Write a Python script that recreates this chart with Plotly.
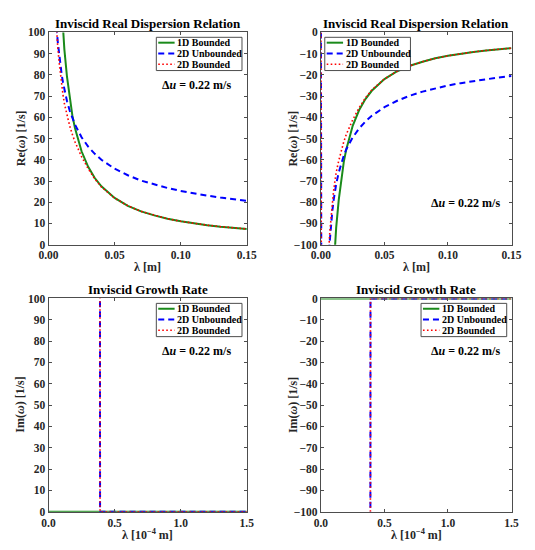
import plotly.graph_objects as go

# ---------------- data ----------------
lam_top = [0.004, 0.005, 0.006, 0.007, 0.008, 0.009, 0.010, 0.011, 0.012, 0.014,
           0.016, 0.018, 0.020, 0.025, 0.030, 0.035, 0.040, 0.050, 0.060, 0.070,
           0.080, 0.090, 0.100, 0.110, 0.120, 0.130, 0.140, 0.150]

re_pos_1d = [275, 220, 183, 157, 138, 122, 110, 100, 92, 79,
             69, 61, 55, 44, 36.7, 31.4, 27.5, 22.0, 18.3, 15.7,
             13.8, 12.2, 11.0, 10.0, 9.2, 8.5, 7.9, 7.4]
re_pos_2du = [126, 113, 103, 95.6, 89.4, 84.3, 80, 76.3, 73, 67.6,
              63.2, 59.6, 56.6, 50.6, 46.2, 42.8, 40.0, 35.8, 32.7, 30.2,
              28.3, 26.7, 25.3, 24.1, 23.1, 22.2, 21.4, 20.7]
re_pos_2db = [125, 112, 101, 93, 86, 80, 75, 70.5, 66.5, 61,
              56, 52, 48.5, 41.5, 35.8, 31.0, 27.2, 21.9, 18.3, 15.7,
              13.8, 12.2, 11.0, 10.0, 9.2, 8.5, 7.9, 7.4]

lam_top_neg = [0.0, 0.001] + lam_top
re_neg_1d = [-275, -220, -183, -157, -138, -122, -110, -100, -92, -79,
             -69, -61, -55, -44, -36.7, -31.4, -27.5, -22.0, -18.3, -15.7,
             -13.8, -12.2, -11.0, -10.0, -9.2, -8.5, -7.9, -7.4]
re_neg_2du = [0, -400, -140, -122, -108, -98, -90, -84, -79, -75, -71.5, -66,
              -61.5, -58, -55, -49.5, -45.3, -42, -39.3, -35.2, -32.2, -29.8,
              -27.9, -26.3, -25.0, -23.9, -22.9, -22.0, -21.2, -20.5]
re_neg_2db = [0, -400, -139, -120, -104, -94, -86, -79.5, -74.5, -70, -66, -60.5,
              -55.5, -51.5, -48, -41.2, -35.6, -30.9, -27.1, -21.9, -18.3, -15.7,
              -13.8, -12.2, -11.0, -10.0, -9.2, -8.5, -7.9, -7.4]

lam_bot = [0.0, 0.1, 0.2, 0.3, 0.35, 0.38, 0.388, 0.39, 0.5, 0.75, 1.0, 1.25, 1.5]
im_pos_1d = [0, 0, 0, 0, 0, 0, 0, 0, 0, 0, 0, 0, 0]
im_pos_2du = [5000, 3000, 2000, 1200, 900, 500, 300, 0, 0, 0, 0, 0, 0]
im_pos_2db = [5000, 3000, 2000, 1200, 900, 500, 300, 0, 0, 0, 0, 0, 0]
im_neg_1d = [0, 0, 0, 0, 0, 0, 0, 0, 0, 0, 0, 0, 0]
im_neg_2du = [-5000, -3000, -2000, -1200, -900, -500, -300, 0, 0, 0, 0, 0, 0]
im_neg_2db = [-5000, -3000, -2000, -1200, -900, -500, -300, 0, 0, 0, 0, 0, 0]

names = ["1D Bounded", "2D Unbounded", "2D Bounded"]
titles = ["Inviscid Real Dispersion Relation", "Inviscid Real Dispersion Relation",
          "Inviscid Growth Rate", "Inviscid Growth Rate"]
note = "<b>Δ<i>u</i> = 0.22 m/s</b>"

# ---------------- styling ----------------
W, H = 535, 550
FONT = "Liberation Serif"
AX = "#4d4d4d"
TXT = "#262626"
GREEN, BLUE, RED = "#1a8a1a", "#0000ff", "#ff0000"

def px_x(p):
    return p / W

def px_y(p):
    return 1 - p / H

panels = [
    dict(ax="", xl=40, xr=246, yt=27, yb=244, xr_=[0, 0.15], yr=[0, 100],
         x=[lam_top, lam_top, lam_top], y=[re_pos_1d, re_pos_2du, re_pos_2db],
         leg=(152, 32), note=(194, 81), ytitle="<b>Re(<i>ω</i>) [1/s]</b>",
         xtitle="<b>λ [m]</b>", dtick=0.05, fmt=".2f"),
    dict(ax="2", xl=323, xr=521, yt=27, yb=244, xr_=[0, 0.15], yr=[-100, 0],
         x=[lam_top, lam_top_neg, lam_top_neg], y=[re_neg_1d, re_neg_2du, re_neg_2db],
         leg=(327, 32), note=(473, 201), ytitle="<b>Re(<i>ω</i>) [1/s]</b>",
         xtitle="<b>λ [m]</b>", dtick=0.05, fmt=".2f"),
    dict(ax="3", xl=40, xr=246, yt=299, yb=517, xr_=[0, 1.5], yr=[0, 100],
         x=[lam_bot, lam_bot, lam_bot], y=[im_pos_1d, im_pos_2du, im_pos_2db],
         leg=(152, 304), note=(194, 353), ytitle="<b>Im(<i>ω</i>) [1/s]</b>",
         xtitle="<b>λ [10<sup>−4</sup> m]</b>", dtick=0.5, fmt=".1f"),
    dict(ax="4", xl=323, xr=521, yt=299, yb=517, xr_=[0, 1.5], yr=[-100, 0],
         x=[lam_bot, lam_bot, lam_bot], y=[im_neg_1d, im_neg_2du, im_neg_2db],
         leg=(427, 304), note=(473, 353), ytitle="<b>Im(<i>ω</i>) [1/s]</b>",
         xtitle="<b>λ [10<sup>−4</sup> m]</b>", dtick=0.5, fmt=".1f"),
]

styles = [
    dict(color=GREEN, width=2, dash="solid"),
    dict(color=BLUE, width=2, dash="6px,4px"),
    dict(color=RED, width=1.6, dash="1.6px,2.4px"),
]

LEG_W, LEG_H = 89, 34

fig = go.Figure()
layout = dict(
    width=W, height=H, margin=dict(l=0, r=0, t=0, b=0),
    paper_bgcolor="white", plot_bgcolor="white",
    font=dict(family=FONT, size=11, color=TXT),
    showlegend=False,
    annotations=[], shapes=[],
)

for i, p in enumerate(panels):
    for k in range(3):
        fig.add_trace(go.Scatter(
            x=p["x"][k], y=p["y"][k], mode="lines", name=names[k],
            line=styles[k], xaxis="x" + p["ax"], yaxis="y" + p["ax"],
        ))
    axis_common = dict(
        showgrid=False, zeroline=False, showline=True, linecolor=AX, linewidth=1,
        mirror="ticks", ticks="inside", ticklen=3, tickcolor=AX,
        tickfont=dict(family=FONT, size=11.5, color=TXT, weight="bold"),
    )
    xa = dict(axis_common, domain=[px_x(p["xl"]), px_x(p["xr"])], range=p["xr_"],
              anchor="y" + p["ax"], dtick=p["dtick"], tick0=0, tickformat=p["fmt"])
    ya = dict(axis_common, domain=[px_y(p["yb"]), px_y(p["yt"])], range=p["yr"],
              anchor="x" + p["ax"], dtick=10, tick0=0)
    layout["xaxis" + p["ax"]] = xa
    layout["yaxis" + p["ax"]] = ya

    cx = (p["xl"] + p["xr"]) / 2
    layout["annotations"] += [
        dict(text="<b>" + titles[i] + "</b>", x=px_x(cx), y=px_y(p["yt"] - 9),
             xref="paper", yref="paper", showarrow=False, xanchor="center",
             yanchor="middle", font=dict(family=FONT, size=13, color="black")),
        dict(text=note, x=px_x(p["note"][0]), y=px_y(p["note"][1]),
             xref="paper", yref="paper", showarrow=False, xanchor="center",
             yanchor="middle", font=dict(family=FONT, size=12, color="black")),
        dict(text=p["xtitle"], x=px_x(cx), y=px_y(p["yb"] + 23),
             xref="paper", yref="paper", showarrow=False, xanchor="center",
             yanchor="middle", font=dict(family=FONT, size=12, color=TXT)),
        dict(text=p["ytitle"], x=px_x(p["xl"] - 29), y=px_y((p["yt"] + p["yb"]) / 2),
             xref="paper", yref="paper", showarrow=False, textangle=-90,
             xanchor="center", yanchor="middle",
             font=dict(family=FONT, size=12, color=TXT)),
    ]

    # custom compact legend box (MATLAB style)
    lx, ly = p["leg"]
    layout["shapes"].append(dict(
        type="rect", xref="paper", yref="paper",
        x0=px_x(lx), x1=px_x(lx + LEG_W), y0=px_y(ly), y1=px_y(ly + LEG_H),
        line=dict(color=AX, width=1), fillcolor="white", layer="above"))
    for k in range(3):
        ry = ly + 5.5 + 11 * k
        layout["shapes"].append(dict(
            type="line", xref="paper", yref="paper",
            x0=px_x(lx + 2), x1=px_x(lx + 19), y0=px_y(ry), y1=px_y(ry),
            line=styles[k], layer="above"))
        layout["annotations"].append(dict(
            text="<b>" + names[k] + "</b>", x=px_x(lx + 19.5), y=px_y(ry),
            xref="paper", yref="paper", showarrow=False, xanchor="left",
            yanchor="middle", font=dict(family=FONT, size=10, color="black")))

fig.update_layout(**layout)
fig.write_html("out.html")
